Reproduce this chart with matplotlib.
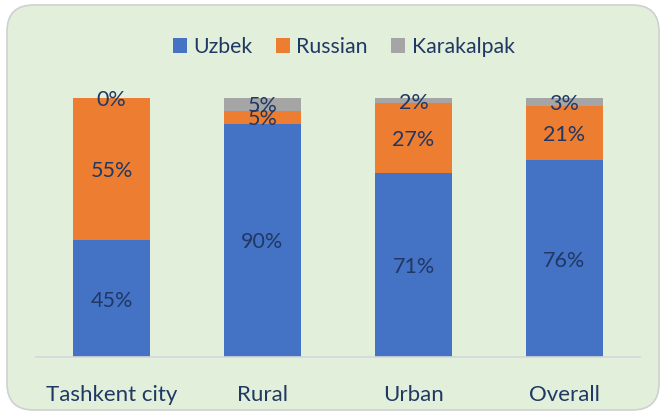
import matplotlib
matplotlib.use('Agg')
import matplotlib.pyplot as plt
from matplotlib.patches import FancyBboxPatch

categories = ['Tashkent city', 'Rural', 'Urban', 'Overall']
uzbek = [45, 90, 71, 76]
russian = [55, 5, 27, 21]
karakalpak = [0, 5, 2, 3]
series_names = ['Uzbek', 'Russian', 'Karakalpak']
colors = ['#4472C4', '#ED7D31', '#A5A5A5']
txtcol = '#203864'

plt.rcParams['font.family'] = ['Lato', 'DejaVu Sans']

W, H = 662, 419
fg = plt.figure(figsize=(W / 100, H / 100), dpi=100)
fg.patch.set_facecolor('white')

# rounded green background panel
panel = FancyBboxPatch((7 / W, 9 / H), 652 / W, 405 / H,
                       boxstyle='round,pad=0,rounding_size=0.04',
                       transform=fg.transFigure, facecolor='#E2EFDA',
                       edgecolor='#D0D0D0', linewidth=1.2, mutation_aspect=W / H,
                       zorder=-5)
fg.patches.append(panel)

ax = fg.add_axes([36 / W, (H - 357) / H, 604 / W, 259 / H])
ax.set_facecolor('none')

x = range(len(categories))
bottom = [0] * len(categories)
for name, vals, c in zip(series_names, [uzbek, russian, karakalpak], colors):
    ax.bar(x, vals, width=0.515, bottom=bottom, color=c, label=name, zorder=2)
    for i, v in enumerate(vals):
        ax.text(i, bottom[i] + v / 2, f'{v}%', ha='center', va='center_baseline',
                color=txtcol, fontsize=15.5, zorder=3)
    bottom = [b + v for b, v in zip(bottom, vals)]

ax.set_xlim(-0.5, 3.5)
ax.set_ylim(0, 100)
ax.set_yticks([])
ax.set_xticks(list(x))
ax.set_xticklabels(categories, color=txtcol, fontsize=16)
ax.tick_params(axis='x', length=0, pad=20)
for s in ['top', 'right', 'left']:
    ax.spines[s].set_visible(False)
ax.spines['bottom'].set_color('#D3D6DA')
ax.spines['bottom'].set_linewidth(1.2)

leg = fg.legend(loc='center', bbox_to_anchor=(344 / W, (H - 47) / H), ncol=3,
                frameon=False, fontsize=15.3, handlelength=0.65, handleheight=0.65,
                handletextpad=0.3, columnspacing=1.1)
for t in leg.get_texts():
    t.set_color(txtcol)

fg.savefig('out.png', dpi=100)
